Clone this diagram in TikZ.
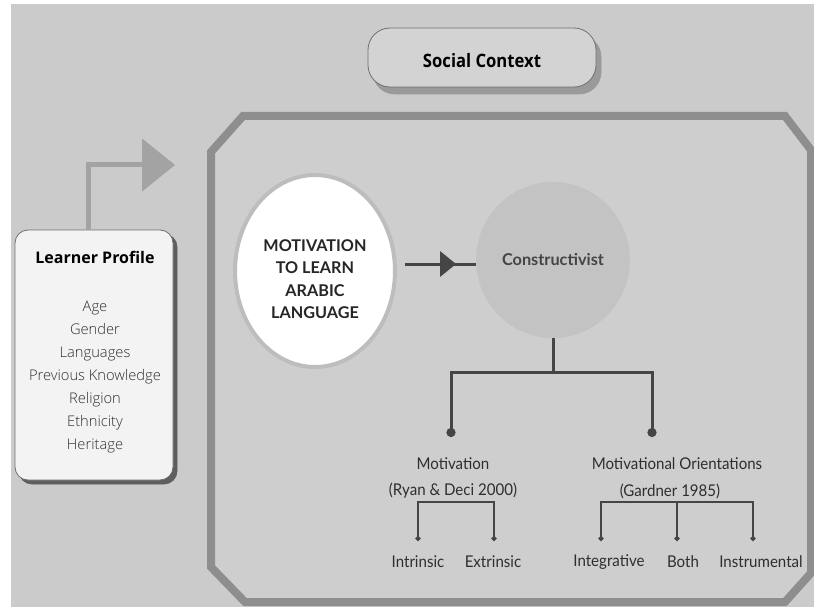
\documentclass[tikz,border=0pt]{standalone}
\usepackage{fontspec}
\setmainfont{Open Sans}
\newfontfamily\oslight{Open Sans Light}
\newfontfamily\oscond{Open Sans}[FakeStretch=0.9]
\newfontfamily\lato{Lato}
\newfontfamily\latocond{Lato}[FakeStretch=0.93]
\usetikzlibrary{shapes.geometric,arrows.meta,decorations.markings}
\definecolor{bgc}{HTML}{CBCBCB}
\definecolor{innerc}{HTML}{CECECE}
\definecolor{framec}{HTML}{8E8E8E}
\definecolor{socfill}{HTML}{D3D3D3}
\definecolor{socdraw}{HTML}{707070}
\definecolor{socshadow}{HTML}{9A9A9A}
\definecolor{lpfill}{HTML}{F3F3F3}
\definecolor{lpshadow}{HTML}{5E5E5E}
\definecolor{arrowgray}{HTML}{A3A3A3}
\definecolor{circdraw}{HTML}{BDBDBD}
\definecolor{constrfill}{HTML}{C3C3C3}
\definecolor{treec}{HTML}{454545}
\definecolor{textc}{HTML}{2E2E2E}
\tikzset{
  socialbox/.style={rectangle, rounded corners=22pt, minimum width=228pt, minimum height=59pt,
    fill=socfill, draw=socdraw, line width=0.8pt, text height=21pt, text depth=0pt,
    preaction={fill=socshadow, draw=socshadow, transform canvas={shift={(5pt,-7pt)}}},
    font=\oscond\bfseries\fontsize{18.5}{22}\selectfont, text=black},
  learnerbox/.style={rectangle, rounded corners=13pt, minimum width=158pt, minimum height=250pt,
    fill=lpfill, draw=socdraw, line width=0.8pt,
    preaction={fill=lpshadow, draw=lpshadow, transform canvas={shift={(4pt,-4pt)}}}},
  tree/.style={draw=treec, line width=3pt},
  subtree/.style={draw=treec, line width=1.8pt},
  treelabel/.style={font=\latocond\fontsize{16.2}{19}\selectfont, text=textc, inner sep=1pt},
}
\begin{document}
\begin{tikzpicture}[x=1pt,y=-1pt]
\useasboundingbox (0,0) rectangle (814,607);
\fill[bgc] (11,4) rectangle (814,607);
% main frame
\draw[framec, line width=8pt, fill=innerc, line join=miter]
  (243,116) -- (785,116) -- (811,150) -- (811,573) -- (785,602) -- (245,602) -- (211,567) -- (211,152) -- cycle;
% social context
\node[socialbox] (social) at (482,57.5) {Social Context};
% learner profile
\coordinate (arrowtip) at (175,165);
\node[learnerbox] (learner) at (94,355) {};
\draw[arrowgray, line width=5pt, -{Triangle[length=33pt,width=52pt]}] ([xshift=-6pt]learner.north) |- (arrowtip);
\node[font=\bfseries\fontsize{16}{19}\selectfont, text=black] (lptitle) at (95,257) {Learner Profile};
\node[font=\oslight\fontsize{14.7}{23}\selectfont, text=textc, align=center] (lpitems) at (95,377)
  {Age\\Gender\\Languages\\Previous Knowledge\\Religion\\Ethnicity\\Heritage};
% motivation circle
\node[ellipse, minimum width=160pt, minimum height=192pt, fill=white, draw=circdraw, line width=4pt] (motiv) at (315,271) {};
\node[font=\lato\bfseries\fontsize{16.2}{22.3}\selectfont, text=black!85, align=center] (motivtext) at (315,279)
  {MOTIVATION\\TO LEARN\\ARABIC\\LANGUAGE};
% constructivist
\node[ellipse, minimum width=138pt, minimum height=156pt, fill=constrfill, font=\lato\bfseries\fontsize{16.3}{19}\selectfont, text=treec] (constr) at (553,260) {Constructivist};
\coordinate (a0) at ([shift={(8pt,7pt)}]motiv.east);
\draw[tree, postaction={decorate}, decoration={markings, mark=at position 0.72 with {\arrow{Triangle[length=16pt,width=25pt]}}}]
  (a0) -- (a0 -| constr.west);
% tree
\coordinate (j) at (553,372);
\coordinate (dL) at (451,437);
\coordinate (dR) at (652,437);
\draw[tree] (constr.south) -- (j);
\draw[tree, {Circle[length=9pt]}-{Circle[length=9pt]}] (dL) |- (j) -| (dR);
\node[treelabel] (mot) at (453,464) {Motivation};
\node[treelabel] (motref) at (453,491) {(Ryan \& Deci 2000)};
\node[treelabel] (mo) at (677,464) {Motivational Orientations};
\node[treelabel] (moref) at (670,491) {(Gardner 1985)};
% left sub tree
\coordinate (b1) at (456,502);
\coordinate (i1) at (418,541);
\coordinate (e1) at (494,541);
\draw[subtree, {Circle[length=5pt]}-{Circle[length=5pt]}] (i1) |- (b1) -| (e1);
\node[treelabel] (intr) at (418,562) {Intrinsic};
\node[treelabel] (extr) at (493,562) {Extrinsic};
% right sub tree
\coordinate (b2) at (677,502);
\coordinate (g1) at (601,541);
\coordinate (g2) at (677,541);
\coordinate (g3) at (753,541);
\draw[subtree, {Circle[length=5pt]}-{Circle[length=5pt]}] (g1) |- (b2) -| (g3);
\draw[subtree, -{Circle[length=5pt]}] (b2) -- (g2);
\node[treelabel] (integ) at (609,562) {Integrative};
\node[treelabel] (both) at (683,562) {Both};
\node[treelabel] (instr) at (761,562) {Instrumental};
\end{tikzpicture}
\end{document}
